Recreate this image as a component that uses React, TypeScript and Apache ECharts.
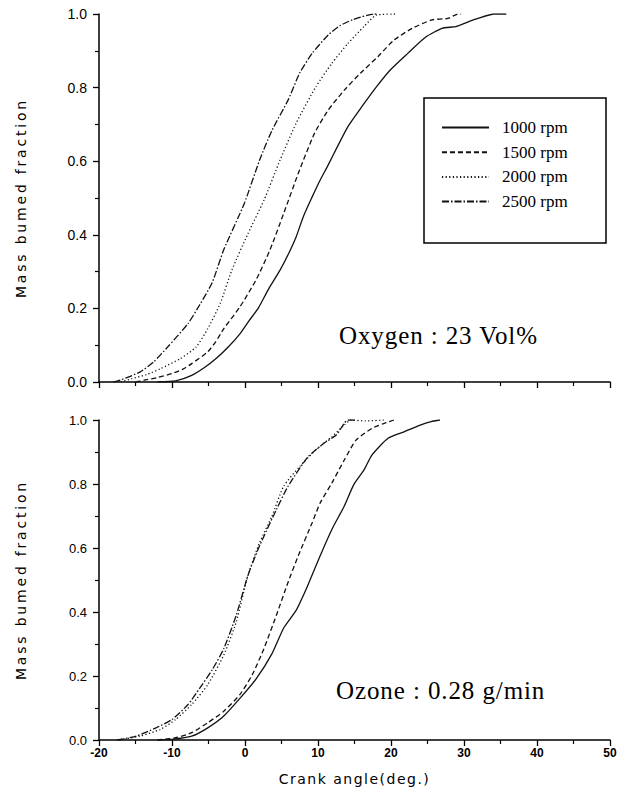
import React, { useEffect, useRef } from "react";
import * as echarts from "echarts";

const rpmNames = ["1000 rpm", "1500 rpm", "2000 rpm", "2500 rpm"];

const oxygen1000 = [[-12,0],[-9.5,0.003],[-7.3,0.018],[-5.5,0.04],[-4,0.063],[-2.3,0.095],[-0.7,0.131],[0.5,0.165],[1.8,0.2],[3.3,0.255],[4.8,0.304],[6,0.35],[7,0.394],[8,0.45],[9.2,0.503],[10.2,0.545],[11.4,0.59],[12.8,0.645],[14.1,0.694],[16,0.748],[18,0.802],[19.9,0.848],[22.3,0.893],[24.8,0.938],[27,0.961],[28.9,0.966],[30.5,0.978],[31.9,0.988],[34.1,1.0],[35.8,1.0]];
const oxygen1500 = [[-15,0],[-13.8,0.005],[-12,0.012],[-10,0.023],[-8.5,0.035],[-7.3,0.05],[-5.1,0.082],[-4,0.11],[-2.9,0.145],[-0.7,0.204],[1.5,0.277],[3.4,0.358],[5.3,0.458],[7.3,0.567],[9.5,0.675],[11.4,0.739],[13.6,0.793],[15.8,0.839],[18.2,0.884],[20.4,0.929],[22.9,0.961],[25.6,0.984],[27.8,0.988],[29.2,1.0],[29.6,1.0]];
const oxygen2000 = [[-17,0],[-15.5,0.009],[-13.5,0.02],[-11.6,0.036],[-8.9,0.063],[-6.7,0.095],[-5.1,0.145],[-3.4,0.213],[-1.8,0.304],[0.4,0.403],[2.6,0.494],[4.8,0.603],[7,0.703],[9.7,0.802],[11.9,0.866],[14.1,0.92],[16.3,0.966],[18,0.997],[20.7,1.0]];
const oxygen2500 = [[-18,0],[-17.1,0.005],[-14.4,0.027],[-12.5,0.055],[-10.6,0.095],[-7.8,0.159],[-6.2,0.21],[-4.5,0.27],[-2.9,0.36],[-0.1,0.485],[2,0.603],[3.7,0.684],[5.9,0.766],[7.5,0.84],[9.2,0.893],[11.4,0.943],[13,0.968],[14.7,0.984],[17.7,1.0],[18.2,1.0]];

const ozone1000 = [[-12,0],[-10,0.002],[-7.3,0.012],[-5.1,0.038],[-2.9,0.075],[-0.7,0.13],[1.5,0.19],[3.7,0.27],[5.3,0.35],[7,0.405],[8.6,0.483],[10.3,0.576],[11.9,0.658],[13.6,0.731],[14.9,0.798],[16.3,0.844],[17.4,0.891],[19.6,0.943],[21.8,0.963],[24,0.984],[25.5,0.995],[26.7,1.0]];
const ozone1500 = [[-12,0],[-9.5,0.007],[-7.3,0.023],[-5.1,0.054],[-2.9,0.09],[-0.7,0.142],[1,0.204],[2.6,0.286],[4.3,0.39],[5.9,0.493],[7.3,0.576],[9.2,0.679],[10.3,0.741],[11.9,0.803],[13.6,0.875],[15.2,0.937],[17.4,0.974],[19,0.989],[20.4,1.0]];
const ozone2000 = [[-17.5,0],[-16,0.005],[-14.4,0.012],[-11.6,0.033],[-9.5,0.064],[-7.3,0.111],[-5.1,0.173],[-2.9,0.266],[-1.2,0.369],[0.4,0.514],[2,0.617],[3.7,0.7],[5.3,0.793],[7.5,0.855],[9.7,0.906],[11.9,0.948],[13.6,0.984],[14.5,1.0],[16.5,0.997],[19,1.0]];
const ozone2500 = [[-17.5,0],[-14.9,0.012],[-12.2,0.038],[-10,0.064],[-7.8,0.111],[-6.2,0.162],[-4.5,0.219],[-2.9,0.286],[-1.2,0.39],[0.4,0.514],[2,0.607],[4.3,0.72],[5.9,0.793],[8.6,0.884],[10.8,0.927],[12.5,0.953],[13.6,0.99],[14.1,1.0],[15,1.0]];

const xTicks = { min: -20, max: 50, interval: 10 };
const yTicks = { min: 0, max: 1, interval: 0.2 };
const yTitle = "Mass bumed fraction";
const xTitle = "Crank angle(deg.)";
const topNote = "Oxygen : 23 Vol%";
const bottomNote = "Ozone : 0.28 g/min";

const dashStyles: any[] = ["solid", [5, 3], [1.2, 2.4], [7, 2, 1.5, 2]];

export default function App() {
  const ref = useRef<HTMLDivElement>(null);
  useEffect(() => {
    if (!ref.current) return;
    const chart = echarts.init(ref.current, null, { renderer: "svg" });
    const spacing: Record<string, string> = {
      [yTitle]: "2.8",
      [xTitle]: "1.5",
      [topNote]: "0.9",
      [bottomNote]: "0.9",
    };
    const applySpacing = () => {
      const root = ref.current;
      if (!root) return;
      root.querySelectorAll("text").forEach((t) => {
        const s = t.textContent || "";
        if (spacing[s]) t.setAttribute("letter-spacing", spacing[s]);
      });
    };
    chart.on("finished", applySpacing);
    const axisLine = { show: true, onZero: false, lineStyle: { color: "#000", width: 1.5 } };
    const mkX = (gridIndex: number, showLabels: boolean) => ({
      type: "value",
      gridIndex,
      min: xTicks.min,
      max: xTicks.max,
      interval: xTicks.interval,
      axisLine,
      axisTick: { show: true, inside: false, length: 6, lineStyle: { color: "#000", width: 1.3 } },
      minorTick: { show: true, splitNumber: 2, length: 4, lineStyle: { color: "#000", width: 1.2 } },
      splitLine: { show: false },
      axisLabel: {
        show: showLabels,
        margin: 7,
        color: "#000",
        fontFamily: "Liberation Sans",
        fontWeight: "bold",
        fontSize: 12,
      },
      name: showLabels ? xTitle : "",
      nameLocation: "middle",
      nameGap: 32,
      nameTextStyle: { color: "#000", fontFamily: "DejaVu Sans", fontSize: 14 },
    });
    const mkY = (gridIndex: number, fontSize: number) => ({
      type: "value",
      gridIndex,
      min: yTicks.min,
      max: yTicks.max,
      interval: yTicks.interval,
      axisLine,
      axisTick: { show: true, inside: false, length: 6, lineStyle: { color: "#000", width: 1.3 } },
      minorTick: { show: true, splitNumber: 2, length: 4, lineStyle: { color: "#000", width: 1.2 } },
      splitLine: { show: false },
      axisLabel: {
        margin: 12,
        color: "#000",
        fontFamily: "Liberation Sans",
        fontSize,
        formatter: (v: number) => v.toFixed(1),
      },
      name: yTitle,
      nameLocation: "middle",
      nameRotate: 90,
      nameGap: 71,
      nameTextStyle: { color: "#000", fontFamily: "DejaVu Sans", fontSize: 14 },
    });
    const topData = [oxygen1000, oxygen1500, oxygen2000, oxygen2500];
    const botData = [ozone1000, ozone1500, ozone2000, ozone2500];
    const mkSeries = (data: number[][], i: number, gi: number) => ({
      type: "line",
      name: rpmNames[i],
      xAxisIndex: gi,
      yAxisIndex: gi,
      data,
      showSymbol: false,
      symbol: "none",
      smooth: 0.2,
      lineStyle: { color: "#111", width: 1.3, type: dashStyles[i] },
      itemStyle: { color: "#111" },
    });
    chart.setOption({
      animation: false,
      backgroundColor: "#fff",
      grid: [
        { left: 99, top: 14, width: 511, height: 368 },
        { left: 99, top: 420, width: 511, height: 320 },
      ],
      xAxis: [mkX(0, false), mkX(1, true)],
      yAxis: [mkY(0, 14), mkY(1, 13)],
      legend: {
        data: rpmNames,
        orient: "vertical",
        left: 441,
        top: 119,
        padding: 0,
        itemWidth: 47,
        itemHeight: 16,
        itemGap: 7.7,
        itemStyle: { opacity: 0 },
        textStyle: { fontFamily: "Liberation Serif", fontSize: 17, color: "#000", padding: [0, 0, 0, 8] },
        selectedMode: false,
      },
      graphic: [
        {
          type: "rect",
          shape: { x: 424, y: 98, width: 182, height: 145 },
          style: { fill: "none", stroke: "#000", lineWidth: 1.5 },
          z: 10,
        },
        {
          type: "text",
          left: 339,
          top: 323,
          style: { text: topNote, font: "25px 'Liberation Serif'", fill: "#000" },
          z: 10,
        },
        {
          type: "text",
          left: 336,
          top: 678,
          style: { text: bottomNote, font: "25px 'Liberation Serif'", fill: "#000" },
          z: 10,
        },
      ],
      series: [
        ...topData.map((d, i) => mkSeries(d, i, 0)),
        ...botData.map((d, i) => mkSeries(d, i, 1)),
      ],
    });
    applySpacing();
    return () => chart.dispose();
  }, []);
  return (
    <div
      ref={ref}
      style={{ position: "absolute", left: 0, top: 0, width: 628, height: 793, background: "#fff" }}
    />
  );
}
